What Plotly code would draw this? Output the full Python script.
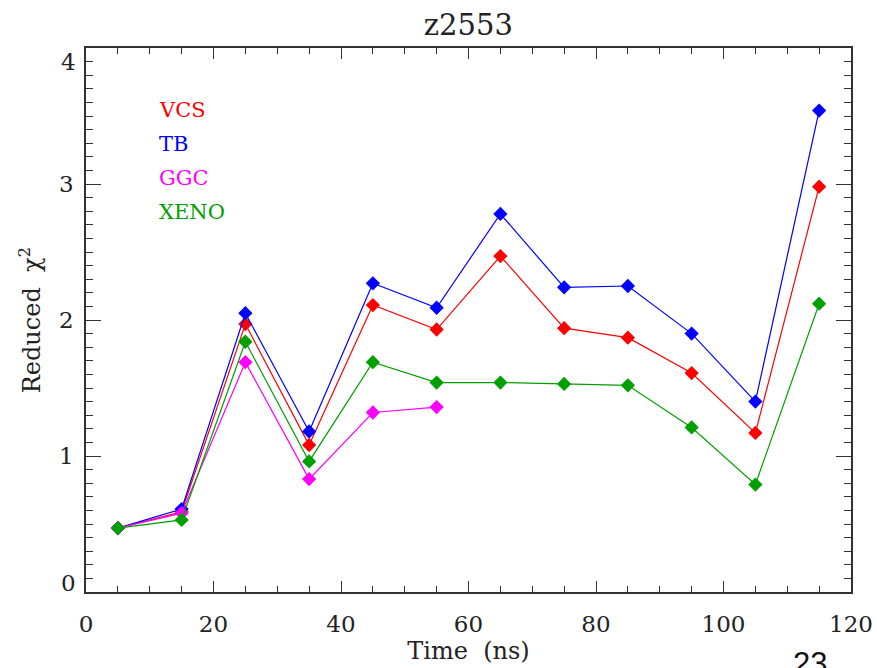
import plotly.graph_objects as go

# ---- data ----
time = [5, 15, 25, 35, 45, 55, 65, 75, 85, 95, 105, 115]
vcs = [0.47, 0.59, 1.97, 1.08, 2.11, 1.93, 2.47, 1.94, 1.87, 1.61, 1.17, 2.98]
tb = [0.47, 0.61, 2.05, 1.18, 2.27, 2.09, 2.78, 2.24, 2.25, 1.90, 1.40, 3.54]
ggc_time = [5, 15, 25, 35, 45, 55]
ggc = [0.47, 0.58, 1.69, 0.83, 1.32, 1.36]
xeno = [0.47, 0.53, 1.84, 0.96, 1.69, 1.54, 1.54, 1.53, 1.52, 1.21, 0.79, 2.12]

series_names = ["VCS", "TB", "GGC", "XENO"]
series_colors = ["#ff0000", "#0000ff", "#ff00ff", "#00a000"]
x_ticks = [0, 20, 40, 60, 80, 100, 120]
y_ticks = [0, 1, 2, 3, 4]

SERIF = "DejaVu Serif"

fig = go.Figure()
for name, xs, ys, col in zip(series_names, [time, time, ggc_time, time],
                             [vcs, tb, ggc, xeno], series_colors):
    fig.add_trace(go.Scatter(
        x=xs, y=ys, mode="lines+markers", name=name,
        line=dict(color=col, width=1.2),
        marker=dict(symbol="diamond", size=11, color=col, line=dict(width=0)),
        showlegend=False,
    ))

# legend-like coloured labels
legend_y = [0.886, 0.824, 0.761, 0.699]
for name, col, ly in zip(series_names, series_colors, legend_y):
    fig.add_annotation(x=0.093, y=ly, xref="paper", yref="paper", text=name,
                       showarrow=False, xanchor="left", yanchor="middle",
                       font=dict(family=SERIF, size=21, color=col))

# end labels of y axis (shifted inward, as in the original)
fig.add_annotation(x=0, y=y_ticks[0], xref="paper", yref="y", text=str(y_ticks[0]),
                   showarrow=False, xanchor="right", yanchor="middle",
                   xshift=-8, yshift=9, font=dict(family=SERIF, size=23, color="#222"))
fig.add_annotation(x=0, y=y_ticks[-1], xref="paper", yref="y", text=str(y_ticks[-1]),
                   showarrow=False, xanchor="right", yanchor="middle",
                   xshift=-8, yshift=-14, font=dict(family=SERIF, size=23, color="#222"))

# slide number
fig.add_annotation(x=0.922, y=-0.095, xref="paper", yref="paper", text="23",
                   showarrow=False, xanchor="left", yanchor="top",
                   font=dict(family="Liberation Sans", size=31, color="#111"))

axis_common = dict(showline=True, linecolor="#333", linewidth=1.5, mirror="ticks",
                   ticks="inside", tickcolor="#333", tickwidth=1.2,
                   showgrid=False, zeroline=False, automargin=False,
                   tickfont=dict(family=SERIF, size=23, color="#222"))

fig.update_xaxes(range=[0, 120], tickmode="array", tickvals=x_ticks,
                 ticktext=[str(v) for v in x_ticks], ticklen=11,
                 ticklabelstandoff=11,
                 minor=dict(dtick=5, ticklen=6, ticks="inside", tickcolor="#333", tickwidth=1.2),
                 title=dict(text="Time  (ns)", font=dict(family=SERIF, size=24, color="#222"),
                            standoff=6),
                 **axis_common)
fig.update_yaxes(range=[0, 4], tickmode="array", tickvals=y_ticks,
                 ticktext=["" if v in (y_ticks[0], y_ticks[-1]) else str(v) for v in y_ticks],
                 ticklen=15, ticklabelstandoff=6,
                 minor=dict(dtick=0.1, ticklen=7, ticks="inside", tickcolor="#333", tickwidth=1.2),
                 title=dict(text="Reduced  χ<sup>2</sup>", font=dict(family=SERIF, size=24, color="#222"),
                            standoff=12),
                 **axis_common)

fig.update_layout(
    width=877, height=668,
    margin=dict(l=86, r=26, t=48, b=76),
    paper_bgcolor="white", plot_bgcolor="white",
    title=dict(text="z2553", x=0.534, xanchor="center", y=1 - 25 / 668, yanchor="middle",
               xref="container", yref="container",
               font=dict(family=SERIF, size=29, color="#222")),
)

fig.write_html("out.html")
